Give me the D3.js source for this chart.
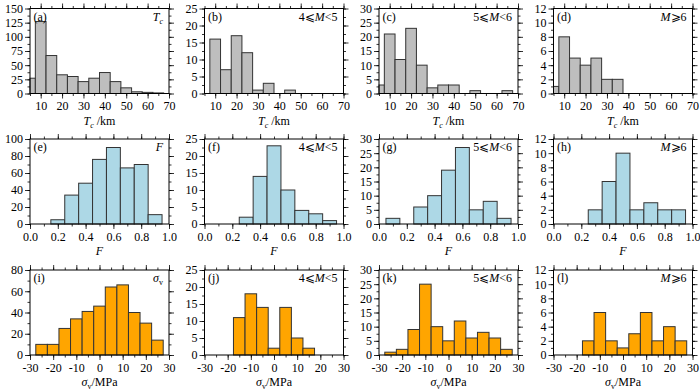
<!DOCTYPE html>
<html>
<head>
<meta charset="utf-8">
<script src="https://cdn.jsdelivr.net/npm/d3@7"></script>
<style>
  body { margin: 0; background: #fff; }
  text { font-family: "Liberation Serif", "Times New Roman", serif; font-size: 12px; fill: #000; }
</style>
</head>
<body>
<div id="chart"></div>
<script>
var svgWidth = 700;
var svgHeight = 392;

// bin centres
var teBins = [5, 10, 15, 20, 25, 30, 35, 40, 45, 50, 55, 60, 65];
var fBins = [0.1, 0.2, 0.3, 0.4, 0.5, 0.6, 0.7, 0.8, 0.9];
var sigBins = [-25, -20, -15, -10, -5, 0, 5, 10, 15, 20, 25];

// counts, one per bin
var teAll = [27, 127, 67, 33, 30, 21, 27, 37, 21, 10, 3, 2, 1];
var teM4 = [0, 16, 7, 17, 12, 1, 3, 0, 1, 0, 0, 0, 0];
var teM5 = [3, 21, 12, 23, 10, 2, 3, 3, 0, 1, 0, 0, 1];
var teM6 = [1, 8, 5, 4, 5, 2, 2, 0, 0, 0, 0, 0, 0];

var fAll = [0, 5, 34, 48, 76, 90, 66, 70, 11];
var fM4 = [0, 0, 2, 14, 23, 10, 4, 3, 1];
var fM5 = [2, 0, 6, 10, 19, 27, 5, 8, 2];
var fM6 = [0, 0, 2, 6, 10, 2, 3, 2, 2];

var sigAll = [10, 10, 25, 34, 41, 46, 64, 66, 40, 30, 14];
var sigM4 = [0, 0, 11, 18, 14, 2, 14, 5, 2, 0, 0];
var sigM5 = [1, 2, 9, 25, 10, 5, 12, 6, 8, 6, 2];
var sigM6 = [0, 0, 2, 6, 2, 1, 3, 6, 2, 4, 2];

// axis ticks
var teTicks = [10, 20, 30, 40, 50, 60, 70];
var fTicks = [0, 0.2, 0.4, 0.6, 0.8, 1.0];
var sigTicks = [-30, -20, -10, 0, 10, 20, 30];
var yMaxAll = [150, 100, 80];
var yStepAll = [25, 20, 20];
var yMaxCol = [25, 30, 12];
var yStepCol = [5, 5, 2];

var panelLetters = ["a", "b", "c", "d", "e", "f", "g", "h", "i", "j", "k", "l"];
var magLabels = [["4⩽", "M", "<5"], ["5⩽", "M", "<6"], ["", "M", "⩾6"]];

var rows = [
  { bins: teBins, width: 5, domain: [5, 70], ticks: teTicks, minor: 5, fill: "#bebebe",
    series: [teAll, teM4, teM5, teM6], fmt: function(d) { return String(d); } },
  { bins: fBins, width: 0.1, domain: [0, 1], ticks: fTicks, minor: 0.1, fill: "#add8e6",
    series: [fAll, fM4, fM5, fM6], fmt: d3.format(".1f") },
  { bins: sigBins, width: 5, domain: [-30, 30], ticks: sigTicks, minor: 5, fill: "#ffa500",
    series: [sigAll, sigM4, sigM5, sigM6], fmt: function(d) { return String(d); } }
];

var lefts = [30, 204.5, 379, 553.5];
var tops = [8.5, 139, 270];
var pw = 139, ph = 85;

var svg = d3.select("#chart")
  .append("svg")
  .attr("width", svgWidth)
  .attr("height", svgHeight);

function range(a, b, step) {
  var out = [];
  var n = Math.round((b - a) / step);
  for (var i = 0; i <= n; i++) out.push(+(a + i * step).toFixed(4));
  return out;
}

function styleAxis(g) {
  g.attr("font-family", null).attr("font-size", null);
  g.select(".domain").remove();
  g.selectAll(".tick line").attr("stroke", "#000").attr("stroke-width", 0.8);
}

rows.forEach(function(row, r) {
  row.series.forEach(function(counts, c) {
    var idx = r * 4 + c;
    var g = svg.append("g")
      .attr("transform", `translate(${lefts[c]}, ${tops[r]})`);

    var ymax = c === 0 ? yMaxAll[r] : yMaxCol[c - 1];
    var ystep = c === 0 ? yStepAll[r] : yStepCol[c - 1];

    var x = d3.scaleLinear().domain(row.domain).range([0, pw]);
    var y = d3.scaleLinear().domain([0, ymax]).range([ph, 0]);

    var yMajor = range(0, ymax, ystep);
    var yMinor = range(0, ymax, ystep / 2);
    var xMinor = range(row.domain[0], row.domain[1], row.minor);

    // bars
    var data = row.bins.map(function(b, i) { return { c: b, n: counts[i] }; })
      .filter(function(d) { return d.n > 0; });
    g.selectAll("rect.bar").data(data).enter()
      .append("rect")
      .attr("class", "bar")
      .attr("x", function(d) { return x(Math.max(row.domain[0], d.c - row.width / 2)); })
      .attr("width", function(d) {
        return x(Math.min(row.domain[1], d.c + row.width / 2)) - x(Math.max(row.domain[0], d.c - row.width / 2));
      })
      .attr("y", function(d) { return y(d.n); })
      .attr("height", function(d) { return ph - y(d.n); })
      .attr("fill", row.fill)
      .attr("stroke", "#333")
      .attr("stroke-width", 1);

    // minor ticks on all four sides
    g.append("g").attr("transform", `translate(0, ${ph})`)
      .call(d3.axisBottom(x).tickValues(xMinor).tickSize(2.5).tickSizeOuter(0).tickFormat(""))
      .call(styleAxis);
    g.append("g")
      .call(d3.axisTop(x).tickValues(xMinor).tickSize(2.5).tickSizeOuter(0).tickFormat(""))
      .call(styleAxis);
    g.append("g")
      .call(d3.axisLeft(y).tickValues(yMinor).tickSize(2.5).tickSizeOuter(0).tickFormat(""))
      .call(styleAxis);
    g.append("g").attr("transform", `translate(${pw}, 0)`)
      .call(d3.axisRight(y).tickValues(yMinor).tickSize(2.5).tickSizeOuter(0).tickFormat(""))
      .call(styleAxis);

    // major ticks
    g.append("g").attr("transform", `translate(0, ${ph})`)
      .call(d3.axisBottom(x).tickValues(row.ticks).tickSize(5).tickPadding(3).tickSizeOuter(0).tickFormat(row.fmt))
      .call(styleAxis);
    g.append("g")
      .call(d3.axisTop(x).tickValues(row.ticks).tickSize(5).tickSizeOuter(0).tickFormat(""))
      .call(styleAxis);
    g.append("g")
      .call(d3.axisLeft(y).tickValues(yMajor).tickSize(5).tickPadding(2).tickSizeOuter(0))
      .call(styleAxis);
    g.append("g").attr("transform", `translate(${pw}, 0)`)
      .call(d3.axisRight(y).tickValues(yMajor).tickSize(5).tickSizeOuter(0).tickFormat(""))
      .call(styleAxis);

    // frame
    g.append("rect")
      .attr("width", pw)
      .attr("height", ph)
      .attr("fill", "none")
      .attr("stroke", "#000")
      .attr("stroke-width", 1);

    // panel letter
    g.append("text")
      .attr("x", 3.5)
      .attr("y", 12)
      .text("(" + panelLetters[idx] + ")");

    // top-right label
    var lab = g.append("text")
      .attr("x", pw - 6)
      .attr("y", 12)
      .attr("text-anchor", "end");
    if (c === 0) {
      if (r === 0) {
        lab.append("tspan").attr("font-style", "italic").text("T");
        lab.append("tspan").attr("font-style", "italic").attr("font-size", 8).attr("dy", 3).text("c");
      } else if (r === 1) {
        lab.append("tspan").attr("font-style", "italic").text("F");
      } else {
        lab.append("tspan").attr("font-style", "italic").text("σ");
        lab.append("tspan").attr("font-size", 8).attr("dy", 3).text("v");
      }
    } else {
      var m = magLabels[c - 1];
      if (m[0]) lab.append("tspan").text(m[0]);
      lab.append("tspan").attr("font-style", "italic").text(m[1]);
      lab.append("tspan").text(m[2]);
    }

    // x-axis title
    var t = g.append("text")
      .attr("x", pw / 2)
      .attr("y", ph + 31)
      .attr("text-anchor", "middle");
    if (r === 0) {
      t.append("tspan").attr("font-style", "italic").text("T");
      t.append("tspan").attr("font-style", "italic").attr("font-size", 8).attr("dy", 3).text("c");
      t.append("tspan").attr("dy", -3).text(" /km");
    } else if (r === 1) {
      t.append("tspan").attr("font-style", "italic").text("F");
    } else {
      t.append("tspan").attr("font-style", "italic").text("σ");
      t.append("tspan").attr("font-size", 8).attr("dy", 3).text("v");
      t.append("tspan").attr("dy", -3).text("/MPa");
    }
  });
});
</script>
</body>
</html>
